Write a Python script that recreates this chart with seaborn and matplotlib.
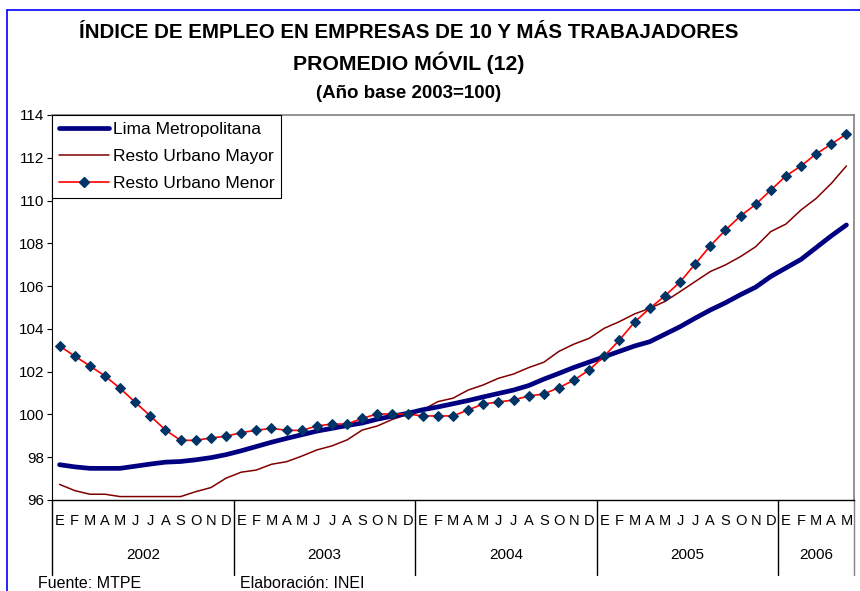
import numpy as np
import pandas as pd
import matplotlib
matplotlib.use("Agg")
import matplotlib.pyplot as plt
import matplotlib.transforms as mtransforms
from matplotlib.lines import Line2D
import seaborn as sns

# ---------- Data (Ene 2002 - May 2006, promedio móvil 12 meses) ----------

MONTHS = ["E", "F", "M", "A", "M", "J", "J", "A", "S", "O", "N", "D"]
YEARS = ["2002", "2003", "2004", "2005", "2006"]
MONTHS_PER_YEAR = [12, 12, 12, 12, 5]

lima_metropolitana = [
    97.65, 97.55, 97.48, 97.48, 97.48, 97.58, 97.68, 97.77, 97.80, 97.88, 97.98, 98.12,
    98.30, 98.50, 98.70, 98.88, 99.05, 99.22, 99.35, 99.48, 99.60, 99.78, 99.92, 100.05,
    100.22, 100.35, 100.50, 100.65, 100.82, 100.98, 101.14, 101.35, 101.65, 101.92, 102.20, 102.45,
    102.70, 102.95, 103.20, 103.40, 103.75, 104.10, 104.50, 104.88, 105.22, 105.60, 105.95, 106.45,
    106.85, 107.25, 107.80, 108.35, 108.86,
]
resto_urbano_mayor = [
    96.73, 96.44, 96.27, 96.27, 96.16, 96.16, 96.16, 96.16, 96.16, 96.39, 96.58, 97.02,
    97.30, 97.40, 97.67, 97.79, 98.05, 98.34, 98.53, 98.81, 99.27, 99.46, 99.77, 100.00,
    100.21, 100.60, 100.76, 101.14, 101.38, 101.69, 101.89, 102.19, 102.44, 102.95, 103.29, 103.56,
    104.03, 104.34, 104.70, 104.96, 105.28, 105.74, 106.21, 106.68, 106.99, 107.38, 107.84, 108.55,
    108.90, 109.56, 110.10, 110.80, 111.62,
]
resto_urbano_menor = [
    103.20, 102.73, 102.27, 101.80, 101.22, 100.57, 99.93, 99.27, 98.79, 98.79, 98.90, 98.98,
    99.15, 99.26, 99.35, 99.26, 99.25, 99.46, 99.55, 99.55, 99.82, 100.02, 100.02, 100.02,
    99.93, 99.93, 99.93, 100.21, 100.49, 100.58, 100.68, 100.86, 100.96, 101.25, 101.61, 102.08,
    102.73, 103.48, 104.32, 104.96, 105.54, 106.19, 107.03, 107.88, 108.62, 109.28, 109.82, 110.49,
    111.15, 111.62, 112.18, 112.64, 113.11,
]

month_labels = []
for n in MONTHS_PER_YEAR:
    month_labels += MONTHS[:n]

df = pd.DataFrame({
    "t": np.arange(len(month_labels)),
    "lima": lima_metropolitana,
    "mayor": resto_urbano_mayor,
    "menor": resto_urbano_menor,
})

# ---------- Style ----------

sns.set_style("ticks")
plt.rcParams["font.family"] = ["Liberation Sans", "DejaVu Sans"]
plt.rcParams["text.color"] = "black"
plt.rcParams["xtick.color"] = "black"
plt.rcParams["ytick.color"] = "black"

fig = plt.figure(figsize=(8.6, 5.91), dpi=100)
ax = fig.add_axes([52 / 860, 91 / 591, 802 / 860, 385 / 591])

NAVY = "#000080"
MAROON = "#800000"
RED = "#FF0000"
MARKER = "#003366"

sns.lineplot(data=df, x="t", y="lima", ax=ax, color=NAVY, linewidth=3.4, zorder=3)
sns.lineplot(data=df, x="t", y="mayor", ax=ax, color=MAROON, linewidth=1.1, zorder=2)
sns.lineplot(data=df, x="t", y="menor", ax=ax, color=RED, linewidth=1.2, zorder=4,
             marker="D", markersize=5.5, markerfacecolor=MARKER, markeredgecolor=MARKER)

ax.set_xlim(-0.5, len(month_labels) - 0.5)
ax.set_ylim(96, 114)
ax.set_yticks(np.arange(96, 115, 2))
ax.set_xticks(df["t"])
ax.set_xticklabels(month_labels, fontsize=10.5)
ax.tick_params(axis="x", length=0, pad=10)
ax.tick_params(axis="y", length=3.5, width=0.8, pad=2, labelsize=11, direction="out")
ax.set_xlabel("")
ax.set_ylabel("")

for side in ["top", "right"]:
    ax.spines[side].set_visible(True)
    ax.spines[side].set_color("#808080")
    ax.spines[side].set_linewidth(1.2)
ax.spines["left"].set_color("black")
ax.spines["bottom"].set_color("black")
ax.spines["left"].set_linewidth(0.8)
ax.spines["bottom"].set_linewidth(1.0)

# year separators and labels below the month letters
trans = mtransforms.blended_transform_factory(ax.transData, ax.transAxes)
bounds = np.concatenate([[0], np.cumsum(MONTHS_PER_YEAR)]) - 0.5
for i, b in enumerate(bounds):
    col = "#808080" if i == len(bounds) - 1 else "black"
    ax.plot([b, b], [0, -0.195], transform=trans, color=col, linewidth=1.0, clip_on=False)
for i, year in enumerate(YEARS):
    mid = (bounds[i] + bounds[i + 1]) / 2
    ax.text(mid, -0.143, year, transform=trans, ha="center", va="center", fontsize=11)

# legend
handles = [
    Line2D([], [], color=NAVY, linewidth=3.4),
    Line2D([], [], color=MAROON, linewidth=1.1),
    Line2D([], [], color=RED, linewidth=1.2, marker="D", markersize=5.5,
           markerfacecolor=MARKER, markeredgecolor=MARKER),
]
labels = ["Lima Metropolitana", "Resto Urbano Mayor", "Resto Urbano Menor"]
leg = ax.legend(handles, labels, loc="upper left", bbox_to_anchor=(0, 1), borderaxespad=0,
                frameon=True, fancybox=False, edgecolor="black", framealpha=1,
                fontsize=12.5, handlelength=2.9, handletextpad=0.2, labelspacing=0.68,
                borderpad=0.4)
leg.get_frame().set_linewidth(0.8)

# titles
fig.text(409 / 860, (591 - 33) / 591, "ÍNDICE DE EMPLEO EN EMPRESAS DE 10 Y MÁS TRABAJADORES",
         ha="center", va="center", fontsize=14.8, fontweight="bold")
fig.text(409 / 860, (591 - 63) / 591, "PROMEDIO MÓVIL (12)", ha="center", va="center",
         fontsize=15.3, fontweight="bold")
fig.text(409 / 860, (591 - 93) / 591, "(Año base 2003=100)", ha="center", va="center",
         fontsize=13.5, fontweight="bold")

# source
fig.text(38 / 860, (591 - 583) / 591, "Fuente: MTPE", ha="left", va="center", fontsize=11.5)
fig.text(240 / 860, (591 - 583) / 591, "Elaboración: INEI", ha="left", va="center", fontsize=11.5)

# blue frame around the chart area
fig.add_artist(Line2D([7 / 860, 1], [1 - 10 / 591, 1 - 10 / 591], color="#0000FF", linewidth=1.2))
fig.add_artist(Line2D([7 / 860, 7 / 860], [0, 1 - 10 / 591], color="#0000FF", linewidth=1.2))

fig.savefig("out.png", dpi=100)
